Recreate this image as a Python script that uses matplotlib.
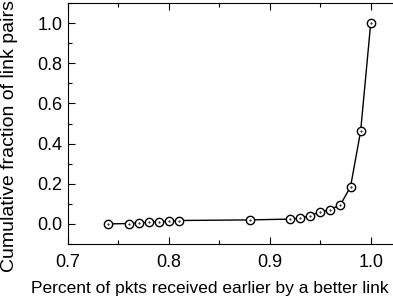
import matplotlib.pyplot as plt
from matplotlib.ticker import MultipleLocator

plt.rcParams['font.family'] = ['Liberation Sans', 'DejaVu Sans']

# percent of packets received earlier by the better link
pct_earlier = [0.74, 0.76, 0.77, 0.78, 0.79, 0.80, 0.81, 0.88,
               0.92, 0.93, 0.94, 0.95, 0.96, 0.97, 0.98, 0.99, 1.00]
# cumulative fraction of link pairs
cum_frac = [0.0, 0.002, 0.005, 0.008, 0.011, 0.013, 0.017, 0.020,
            0.024, 0.029, 0.041, 0.060, 0.071, 0.096, 0.185, 0.462, 1.0]

W, H = 393, 304
fig = plt.figure(figsize=(W / 100, H / 100), dpi=100)
ax = fig.add_axes([68 / W, 60 / H, 333 / W, 241 / H])

ax.plot(pct_earlier, cum_frac, color='black', linewidth=1.0,
        marker='o', markersize=6, markerfacecolor='white',
        markeredgecolor='black', markeredgewidth=1.0)
# tiny centre dot inside each circle
ax.plot(pct_earlier, cum_frac, linestyle='none', marker='.',
        markersize=1.0, color='black')

ax.set_xlim(0.7, 1.03)
ax.set_ylim(-0.1, 1.1)
ax.xaxis.set_major_locator(MultipleLocator(0.1))
ax.xaxis.set_minor_locator(MultipleLocator(0.05))
ax.yaxis.set_major_locator(MultipleLocator(0.2))
ax.yaxis.set_minor_locator(MultipleLocator(0.1))
ax.tick_params(which='both', direction='in', top=True, right=False,
               labelsize=13, width=0.8)
ax.tick_params(which='major', length=5)
ax.tick_params(which='minor', length=3)
ax.tick_params(axis='x', pad=7)
ax.tick_params(axis='y', pad=4)
ax.spines['right'].set_visible(False)

fig.text(210 / W, 1 - 289 / H,
         'Percent of pkts received earlier by a better link',
         fontsize=12.5, ha='center', va='center')
fig.text(10 / W, 1 - 136 / H, 'Cumulative fraction of link pairs',
         fontsize=14, rotation=90, ha='center', va='center')

fig.savefig('out.png', dpi=100)
